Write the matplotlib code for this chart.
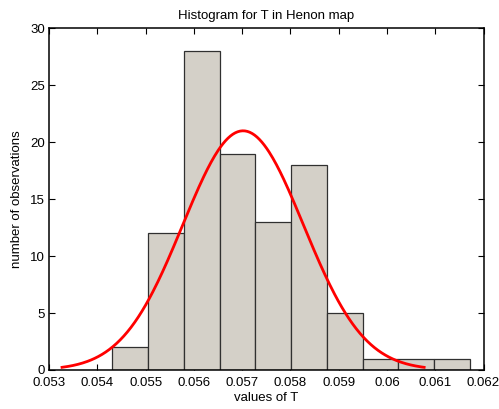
import numpy as np
import matplotlib
matplotlib.use("Agg")
import matplotlib.pyplot as plt

plt.rcParams['font.family'] = ['Liberation Sans', 'DejaVu Sans']

# Histogram data
bin_edges = [0.05431, 0.055051, 0.055792, 0.056533, 0.057274, 0.058015,
             0.058756, 0.059497, 0.060238, 0.060979, 0.06172]
counts = [2, 12, 28, 19, 13, 18, 5, 1, 1, 1]

# Fitted normal curve parameters
fit_mean = 0.05702
fit_sigma = 0.00125
fit_peak = 21.0

x_ticks = [0.053, 0.054, 0.055, 0.056, 0.057, 0.058, 0.059, 0.060, 0.061, 0.062]
x_ticklabels = ['0.053', '0.054', '0.055', '0.056', '0.057', '0.058', '0.059', '0.06', '0.061', '0.062']
y_ticks = [0, 5, 10, 15, 20, 25, 30]

fig = plt.figure(figsize=(4.99, 4.09), dpi=100)
ax = fig.add_axes([0.0982, 0.0954, 0.8708, 0.8354])

edges = np.array(bin_edges)
ax.bar(edges[:-1], counts, width=np.diff(edges), align='edge',
       color='#d4d0c8', edgecolor='#303030', linewidth=0.9, zorder=2)

xs = np.linspace(fit_mean - 3 * fit_sigma, fit_mean + 3 * fit_sigma, 300)
ys = fit_peak * np.exp(-0.5 * ((xs - fit_mean) / fit_sigma) ** 2)
ax.plot(xs, ys, color='#ff0000', linewidth=2.0, zorder=3)

ax.set_xlim(0.053, 0.062)
ax.set_ylim(0, 30)
ax.set_xticks(x_ticks)
ax.set_xticklabels(x_ticklabels)
ax.set_yticks(y_ticks)
ax.tick_params(direction='in', top=True, right=True, length=4, width=0.8,
               labelsize=9.5)
ax.tick_params(axis='x', pad=5)
ax.tick_params(axis='y', pad=3)
for s in ax.spines.values():
    s.set_linewidth(1.1)
    s.set_zorder(4)

ax.set_title('Histogram for T in Henon map', fontsize=9.5, pad=7)
ax.set_xlabel('values of T', fontsize=9.5, labelpad=2)
ax.set_ylabel('number of observations', fontsize=9.5, labelpad=5)

fig.savefig('out.png', dpi=100)
